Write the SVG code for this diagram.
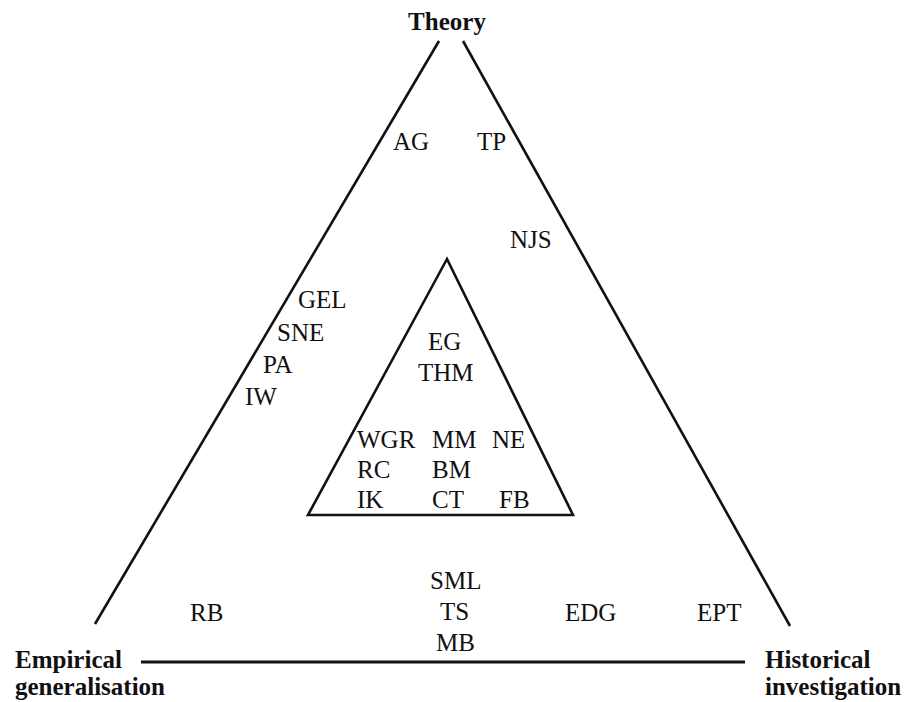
<svg xmlns="http://www.w3.org/2000/svg" width="905" height="702" viewBox="0 0 905 702">
<style>
.l{font-family:"Liberation Serif","Times New Roman",serif;font-size:25px;fill:#111}
.b{font-family:"Liberation Serif","Times New Roman",serif;font-size:25px;font-weight:bold;fill:#111}
.ln{stroke:#111;stroke-width:2.6;fill:none;stroke-linecap:butt}
</style>
<rect width="905" height="702" fill="#fff"/>
<g id="edges">
<line class="ln" x1="95" y1="624" x2="439" y2="41"/>
<line class="ln" x1="463" y1="41" x2="790" y2="626"/>
<line class="ln" x1="141" y1="662" x2="745" y2="662" style="stroke-width:3"/>
<polygon class="ln" points="447,259 308,515 573,515" style="stroke-linejoin:miter"/>
</g>
<g id="theory"><text class="b" x="447" y="30" text-anchor="middle">Theory</text></g>
<g id="empirical"><text class="b" x="15" y="668">Empirical</text><text class="b" x="15" y="695">generalisation</text></g>
<g id="historical"><text class="b" x="765" y="668">Historical</text><text class="b" x="765" y="695">investigation</text></g>
<g id="AG"><text class="l" x="393" y="150">AG</text></g>
<g id="TP"><text class="l" x="477" y="150">TP</text></g>
<g id="NJS"><text class="l" x="510" y="248">NJS</text></g>
<g id="GEL"><text class="l" x="298" y="308">GEL</text></g>
<g id="SNE"><text class="l" x="277" y="341">SNE</text></g>
<g id="PA"><text class="l" x="263" y="373">PA</text></g>
<g id="IW"><text class="l" x="245" y="405">IW</text></g>
<g id="EG"><text class="l" x="428" y="350">EG</text></g>
<g id="THM"><text class="l" x="418" y="381">THM</text></g>
<g id="WGR"><text class="l" x="357" y="448">WGR</text></g>
<g id="MM"><text class="l" x="432" y="448">MM</text></g>
<g id="NE"><text class="l" x="492" y="448">NE</text></g>
<g id="RC"><text class="l" x="357" y="478">RC</text></g>
<g id="BM"><text class="l" x="432" y="478">BM</text></g>
<g id="IK"><text class="l" x="357" y="508">IK</text></g>
<g id="CT"><text class="l" x="432" y="508">CT</text></g>
<g id="FB"><text class="l" x="499" y="508">FB</text></g>
<g id="SML"><text class="l" x="430" y="589">SML</text></g>
<g id="TS"><text class="l" x="440" y="620">TS</text></g>
<g id="MB"><text class="l" x="436" y="651">MB</text></g>
<g id="RB"><text class="l" x="190" y="621">RB</text></g>
<g id="EDG"><text class="l" x="565" y="621">EDG</text></g>
<g id="EPT"><text class="l" x="697" y="621">EPT</text></g>
</svg>
